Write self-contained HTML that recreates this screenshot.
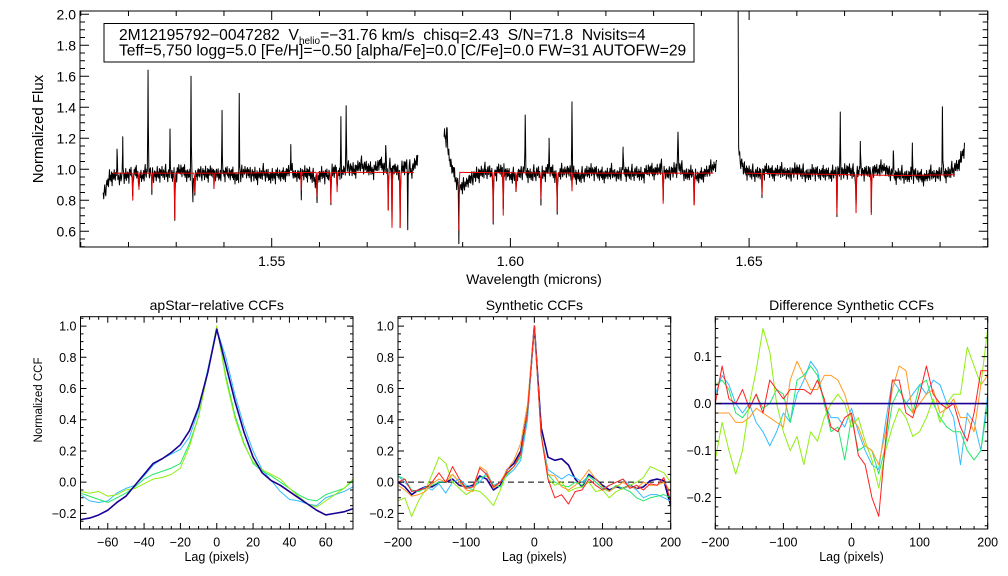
<!DOCTYPE html>
<html><head><meta charset="utf-8"><style>
html,body{margin:0;padding:0;background:#fff;}
svg{display:block;font-family:"Liberation Sans",sans-serif;}
</style></head><body>
<svg id="s" width="1008" height="576" viewBox="0 0 1008 576" xmlns="http://www.w3.org/2000/svg">
<rect width="1008" height="576" fill="#fff"/>
<g id="g1"></g>
<g id="g2"></g>
<g id="g3"></g>
<g id="g4"></g>
</svg>
<script>
// ---------- spectrum data ----------
const chipRanges=[[1.5147,1.5807],[1.5861,1.6432],[1.6477,1.6952]];
const blackCont1=[0.83,0.95,0.96,0.94,0.97,0.98,0.95,0.99,0.96,0.98,0.97,0.96,1.00,0.97,0.95,0.98,0.97,0.99,0.96,0.98,0.97,0.94,0.99,0.97,0.96,0.98,0.95,0.97,0.96,0.99,0.96,0.97,0.98,0.93,0.97,0.96,1.00,0.97,1.02,0.99,1.03,1.01,0.99,1.04,1.00,1.02,0.98,1.03,0.99,1.08];
const blackCont2=[1.22,1.05,0.92,0.88,0.93,0.96,0.98,0.99,0.97,1.00,0.98,0.95,0.97,0.99,0.96,0.98,0.97,1.00,0.96,0.98,0.99,0.97,0.95,0.98,0.99,0.97,0.96,0.98,0.96,0.99,0.97,0.98,0.96,1.00,0.98,1.01,0.97,0.99,1.02,0.96,0.98,0.95,0.97,1.00,1.03];
const blackCont3=[1.10,1.00,0.98,0.97,0.98,1.00,0.97,0.99,0.98,0.97,1.00,0.98,0.96,0.99,0.97,0.98,0.96,0.99,0.98,1.00,0.97,0.99,0.98,1.00,0.99,1.01,0.98,0.96,0.97,0.95,0.97,0.96,0.94,0.97,0.96,0.98,0.97,1.00,1.03,1.15];
const blackResid=[0.02,-0.03,0.01,0.04,-0.02,-0.05,0.01,0.03,-0.01,0.02,-0.04,0.00,0.05,-0.02,0.01,-0.03,0.03,-0.06,0.02,0.01,-0.02,0.04,-0.01,-0.03,0.02,0.00,-0.04,0.03,0.06,-0.02,0.01,-0.01,-0.05,0.02,0.03,-0.02,0.00,0.04,-0.03,0.01,-0.02,0.03,-0.04,0.02,-0.01,0.05,-0.03,0.00,0.02,-0.02,0.01,-0.06,0.03,0.02,-0.01,0.04,-0.02,0.00,-0.03,0.03,0.01,-0.04,0.02,-0.01,0.03,-0.02,0.05,-0.03,0.00,0.02,-0.05,0.01,0.03,-0.02,0.02,-0.01,0.04,-0.03,0.00,0.01,-0.02,0.03,-0.04,0.02,0.06,-0.01,-0.03,0.02,0.00,-0.02,0.03,-0.01,0.01,-0.04,0.02,0.03,-0.02];
const redRanges=[[1.5167,1.5798],[1.5892,1.6425],[1.6494,1.6931]];
const redCont1=[0.975,0.975,0.98,0.98];
const redCont2=[0.98,0.975,0.975];
const redCont3=[0.975,0.97,0.965,0.96,0.965];
const dipWl=[1.5209,1.5222,1.5249,1.5297,1.5339,1.5379,1.5562,1.5595,1.5624,1.5637,1.5744,1.5752,1.5769,1.5892,1.5964,1.5985,1.6012,1.6064,1.6098,1.6129,1.6320,1.6385,1.6527,1.6684,1.6724,1.6756];
const dipVal=[0.80,0.87,0.87,0.68,0.85,0.88,0.86,0.82,0.78,0.85,0.73,0.62,0.62,0.60,0.66,0.70,0.86,0.81,0.73,0.86,0.78,0.77,0.84,0.72,0.73,0.72];
const spikeWl=[1.5176,1.5188,1.5241,1.5287,1.5331,1.5396,1.5432,1.5540,1.5645,1.5656,1.5739,1.5863,1.5867,1.6031,1.6081,1.6129,1.6236,1.6351,1.6477,1.6691,1.6733,1.6802,1.6842,1.6905];
const spikeVal=[1.10,1.20,1.61,1.22,1.59,1.33,1.48,1.13,1.28,1.38,1.16,1.23,1.33,1.35,1.17,1.52,1.55,1.26,2.05,1.33,1.16,1.12,1.15,1.42];
const bDipWl=[1.5335,1.5785,1.6236,1.6475];
const bDipVal=[0.77,0.64,0.56,0.56];
const specYTicks=[0.6,0.8,1.0,1.2,1.4,1.6,1.8,2.0];
const specXTicks=[1.55,1.60,1.65];
const specXLabels=["1.55","1.60","1.65"];

// ---------- CCF data ----------
const lag1=[-75,-70,-65,-60,-55,-50,-45,-40,-35,-30,-25,-20,-15,-10,-5,0,5,10,15,20,25,30,35,40,45,50,55,60,65,70,75];
const ap_navy=[-0.24,-0.23,-0.21,-0.18,-0.13,-0.09,-0.02,0.05,0.12,0.15,0.19,0.24,0.33,0.48,0.70,0.98,0.75,0.52,0.32,0.16,0.06,0.01,-0.02,-0.06,-0.10,-0.14,-0.18,-0.21,-0.20,-0.19,-0.17];
const ap_cyan=[-0.08,-0.12,-0.13,-0.12,-0.07,-0.04,-0.02,0.04,0.11,0.15,0.18,0.21,0.29,0.46,0.72,0.98,0.80,0.56,0.36,0.20,0.08,0.01,-0.06,-0.11,-0.12,-0.14,-0.15,-0.10,-0.08,-0.06,-0.03];
const ap_green=[-0.07,-0.09,-0.11,-0.13,-0.10,-0.07,-0.03,0.02,0.05,0.07,0.09,0.12,0.25,0.42,0.70,1.0,0.68,0.43,0.25,0.12,0.07,0.04,0.0,-0.04,-0.08,-0.11,-0.12,-0.08,-0.06,-0.04,0.01];
const ap_chart=[-0.06,-0.07,-0.06,-0.09,-0.08,-0.05,-0.04,-0.01,0.02,0.03,0.05,0.09,0.23,0.42,0.70,1.0,0.66,0.41,0.24,0.13,0.08,0.05,0.02,-0.04,-0.09,-0.14,-0.16,-0.12,-0.08,-0.04,0.02];
const lag2=[-200,-190,-180,-170,-160,-150,-140,-130,-120,-110,-100,-90,-80,-70,-60,-50,-40,-30,-20,-10,0,10,20,30,40,50,60,70,80,90,100,110,120,130,140,150,160,170,180,190,200];
const sy_navy=[0.0,-0.03,-0.08,-0.05,-0.03,-0.03,0.0,0.0,0.02,-0.02,-0.03,-0.02,0.04,0.02,-0.05,-0.02,0.08,0.12,0.20,0.45,1.0,0.35,0.16,0.14,0.15,0.11,0.02,-0.03,0.05,0.02,-0.02,-0.05,-0.03,-0.04,-0.02,-0.04,-0.03,0.01,0.02,0.01,-0.15];
const sy_cyan=[0.04,0.0,-0.05,-0.06,-0.03,-0.05,-0.01,-0.07,0.0,0.02,-0.02,-0.03,0.0,0.06,-0.02,0.0,0.04,0.08,0.14,0.4,1.0,0.3,0.08,0.05,0.02,0.05,0.03,0.0,0.04,0.0,-0.04,-0.02,0.0,0.02,-0.02,-0.05,-0.10,-0.08,-0.08,-0.10,-0.12];
const sy_green=[0.04,0.02,-0.05,-0.06,-0.04,-0.02,0.0,0.0,0.05,0.0,-0.03,-0.05,0.03,0.04,-0.02,-0.03,0.05,0.10,0.16,0.45,1.0,0.3,0.05,0.0,-0.02,-0.03,0.0,-0.02,0.04,0.0,-0.04,-0.06,-0.02,-0.04,-0.06,-0.10,-0.12,-0.10,-0.09,-0.08,-0.10];
const sy_chart=[-0.12,-0.10,-0.22,-0.12,-0.05,0.05,0.16,0.12,0.0,-0.04,-0.08,-0.05,-0.06,-0.10,-0.15,-0.05,0.06,0.10,0.18,0.45,1.0,0.3,0.02,-0.02,0.0,-0.06,-0.04,-0.03,0.0,-0.06,-0.05,-0.10,-0.06,-0.04,-0.02,0.0,0.03,0.10,0.08,0.06,0.0];
const sy_orange=[-0.02,-0.05,-0.09,-0.08,-0.06,-0.01,0.02,0.0,0.05,0.0,-0.05,-0.06,0.10,0.07,-0.04,0.0,0.08,0.14,0.25,0.5,1.0,0.3,0.05,0.04,-0.03,-0.05,-0.02,0.02,0.08,0.02,-0.03,-0.06,-0.03,0.0,-0.03,-0.04,0.0,-0.02,-0.02,0.0,-0.06];
const sy_red=[0.0,0.02,-0.06,-0.05,-0.04,0.0,0.06,0.0,0.10,0.02,-0.04,-0.03,0.09,0.05,-0.03,0.0,0.06,0.10,0.18,0.45,1.0,0.3,0.02,-0.10,-0.08,-0.14,-0.06,-0.05,0.02,-0.02,-0.05,-0.02,0.0,0.02,-0.04,-0.02,-0.05,-0.01,-0.02,0.03,-0.12];
const df_navy=[0,0,0,0,0,0,0,0,0,0,0,0,0,0,0,0,0,0,0,0,0,0,0,0,0,0,0,0,0,0,0,0,0,0,0,0,0,0,0,0,0];
const df_cyan=[0.02,0.06,0.04,0.0,-0.02,0.0,-0.04,-0.06,-0.09,-0.06,-0.02,-0.04,0.02,0.05,0.09,0.07,0.0,-0.03,-0.03,-0.05,-0.01,-0.06,-0.10,-0.13,-0.14,-0.04,0.05,0.03,0.0,0.02,0.04,0.02,0.05,0.04,0.0,-0.03,-0.13,-0.02,-0.04,-0.10,0.02];
const df_green=[0.04,0.05,0.03,-0.02,-0.03,-0.01,0.02,-0.01,0.0,0.03,0.02,-0.04,0.05,0.06,0.08,0.06,0.0,-0.06,-0.05,-0.12,-0.03,-0.10,-0.09,-0.10,-0.15,-0.09,0.0,0.03,0.0,-0.02,0.04,0.05,0.0,-0.03,-0.05,-0.06,-0.06,-0.10,-0.12,-0.10,0.0];
const df_chart=[-0.12,-0.04,-0.10,-0.15,-0.10,0.0,0.07,0.16,0.11,0.0,-0.06,-0.10,-0.07,-0.13,-0.06,-0.08,-0.03,0.0,0.02,0.0,-0.05,-0.03,-0.08,-0.12,-0.18,-0.10,-0.05,-0.01,-0.03,-0.07,-0.06,-0.03,0.01,-0.04,0.0,0.02,0.02,0.12,0.08,0.04,0.16];
const df_orange=[-0.02,-0.02,-0.02,-0.04,-0.04,-0.03,-0.01,-0.02,-0.03,-0.04,-0.05,0.05,0.09,0.06,0.03,0.03,0.06,0.06,0.05,0.02,-0.03,-0.05,-0.09,-0.10,-0.13,-0.06,0.03,0.08,0.07,-0.02,0.0,0.02,0.03,-0.02,-0.01,0.01,-0.03,-0.03,-0.06,0.04,0.06];
const df_red=[0.0,0.08,0.01,0.0,0.03,-0.01,0.02,-0.02,0.05,0.03,0.01,0.03,0.03,0.03,0.02,0.05,0.01,-0.05,-0.06,-0.03,-0.02,-0.11,-0.13,-0.20,-0.24,-0.08,0.05,0.05,-0.02,-0.03,0.02,0.08,0.02,0.0,-0.01,0.0,-0.05,-0.08,-0.02,0.07,0.07];
const COL={navy:"#1c0096",cyan:"#33bbff",green:"#22e868",chart:"#90ee10",orange:"#ff9a22",red:"#ff2020"};

const NS="http://www.w3.org/2000/svg";
function mk(tag,parent,attrs){const e=document.createElementNS(NS,tag);for(const k in attrs)e.setAttribute(k,attrs[k]);parent.appendChild(e);return e;}
function txt(parent,x,y,s,size,anchor,rot){const t=mk('text',parent,{x:x,y:y,'font-size':size,'text-anchor':anchor||'middle',fill:'#000'});if(rot)t.setAttribute('transform','rotate(-90 '+x+' '+y+')');t.textContent=s;return t;}

function axes(g,L,T,R,B,xs,ys,xmin,xmax,xmaj,xmin_,ymin,ymax,ymaj,ymin_,majL,minL,xlabs,ylabs,fs,name){
  const fr=mk('rect',g,{x:L,y:T,width:R-L,height:B-T,fill:'none',stroke:'#000','stroke-width':1});
  
  
  const tg=mk('g',g,{stroke:'#000','stroke-width':1});
  
  
  let d='';
  for(let v=Math.ceil(xmin/xmin_-1e-6)*xmin_;v<=xmax+1e-9;v+=xmin_){const x=xs(v);const isM=Math.abs(v/xmaj-Math.round(v/xmaj))<1e-4;const l=isM?majL:minL;d+=`M${x},${B}v${-l}M${x},${T}v${l}`;}
  for(let v=Math.ceil(ymin/ymin_-1e-6)*ymin_;v<=ymax+1e-9;v+=ymin_){const y=ys(v);const isM=Math.abs(v/ymaj-Math.round(v/ymaj))<1e-4;const l=isM?majL:minL;d+=`M${L},${y}h${l}M${R},${y}h${-l}`;}
  mk('path',tg,{d:d,fill:'none'});
  const xl=mk('g',g,{});
  
  
  xlabs.forEach(p=>txt(xl,xs(p[0]),B+fs+5,p[1],fs,'middle'));
  const yl=mk('g',g,{});
  
  
  ylabs.forEach(p=>txt(yl,L-4,ys(p[0])+fs*0.36,p[1],fs,'end'));
}
function line(g,xs,ys,X,Y,color,w,name,dash){
  let d='';X.forEach((x,i)=>{d+=(i?'L':'M')+xs(x).toFixed(2)+','+ys(Y[i]).toFixed(2);});
  const p=mk('path',g,{d:d,fill:'none',stroke:color,'stroke-width':w||1,'stroke-linejoin':'round'});
  if(dash)p.setAttribute('stroke-dasharray',dash);
  
  
  return p;
}
function interpArr(arr,a,b,w){const t=(w-a)/(b-a)*(arr.length-1);const i=Math.max(0,Math.min(arr.length-2,Math.floor(t)));const f=t-i;return arr[i]*(1-f)+arr[i+1]*f;}

// ---------- spectrum panel ----------
(function(){
  const g=document.getElementById('g1');
  const L=80,R=987.7,T=11,B=247;
  const xs=w=>271.7+(w-1.55)*4774;
  const ys=v=>169.3-(v-1)*155;
  const cp=mk('clipPath',g,{id:'c1'});mk('rect',cp,{x:L,y:T,width:R-L,height:B-T});
  const conts=[blackCont1,blackCont2,blackCont3];
  const rconts=[redCont1,redCont2,redCont3];
  const W=0.00012;
  const sg=mk('g',g,{'clip-path':'url(#c1)'});
  let ri=0;
  for(let k=0;k<3;k++){
    const [a,b]=chipRanges[k];
    let pts=[];for(let w=a;w<=b;w+=0.00011)pts.push(w);
    spikeWl.concat(dipWl,bDipWl).forEach(c=>{if(c>=a&&c<=b)pts.push(c);});
    pts.sort((p,q)=>p-q);
    const X=[],Y=[];
    pts.forEach(w=>{let base=interpArr(conts[k],a,b,w);let v=base+blackResid[(ri++)%blackResid.length];
      dipWl.forEach((c,i)=>{const f=1-Math.abs(w-c)/W;if(f>0)v+=(dipVal[i]-0.975)*f;});
      bDipWl.forEach((c,i)=>{const f=1-Math.abs(w-c)/W;if(f>0)v+=(bDipVal[i]-base)*f;});
      spikeWl.forEach((c,i)=>{const f=1-Math.abs(w-c)/W;if(f>0)v+=(spikeVal[i]-base)*f;});
      X.push(w);Y.push(v);});
    line(sg,xs,ys,X,Y,'#000',1,'observed-spectrum-chip-'+(k+1));
  }
  for(let k=0;k<3;k++){
    const [a,b]=redRanges[k];
    let pts=[];for(let w=a;w<=b;w+=0.0001)pts.push(w);
    dipWl.forEach(c=>{if(c>=a&&c<=b)pts.push(c);});
    pts.sort((p,q)=>p-q);
    const X=[],Y=[];
    pts.forEach(w=>{let base=interpArr(rconts[k],a,b,w);let v=base;
      dipWl.forEach((c,i)=>{const f=1-Math.abs(w-c)/W;if(f>0)v+=(dipVal[i]-0.975)*f;});
      X.push(w);Y.push(v);});
    line(sg,xs,ys,X,Y,'#e80000',1,'model-spectrum-chip-'+(k+1));
  }
  axes(g,L,T,R,B,xs,ys,1.51,1.70,0.05,0.01,0.5,2.02,0.2,0.05,9,5,
    specXTicks.map((v,i)=>[v,specXLabels[i]]),specYTicks.map(v=>[v,v.toFixed(1)]),14,'spectrum');
  txt(g,534,284,'Wavelength (microns)',14,'middle');
  const yt=txt(g,43,129,'Normalized Flux',15,'middle',true);
  
  const box=mk('g',g,{});
  
  
  mk('rect',box,{x:104,y:23.5,width:590,height:38.5,fill:'#fff',stroke:'#000','stroke-width':1});
  const t1=mk('text',box,{x:119,y:40,'font-size':15.6,fill:'#000',style:'white-space:pre'});
  t1.innerHTML='2M12195792−0047282  V<tspan font-size="10" dy="4">helio</tspan><tspan dy="-4">=−31.76 km/s  chisq=2.43  S/N=71.8  Nvisits=4</tspan>';
  const t2=mk('text',box,{x:119,y:55.5,'font-size':15.6,fill:'#000'});
  t2.textContent='Teff=5,750 logg=5.0 [Fe/H]=−0.50 [alpha/Fe]=0.0 [C/Fe]=0.0 FW=31 AUTOFW=29';
})();

// ---------- CCF panels ----------
function ccfPanel(id,L,R,xmin,xmax,xmaj,xmn,ymin,ymax,ymaj,ymn,xlabs,ylabs,title,X,series,names,dashZero,ylab,nm){
  const g=document.getElementById(id);
  const T=316.7,B=529;
  const xs=v=>L+(v-xmin)/(xmax-xmin)*(R-L);
  const ys=v=>B-(v-ymin)/(ymax-ymin)*(B-T);
  const cp=mk('clipPath',g,{id:'c'+id});mk('rect',cp,{x:L,y:T,width:R-L,height:B-T});
  const sg=mk('g',g,{'clip-path':'url(#c'+id+')'});
  if(dashZero)line(sg,xs,ys,[xmin,xmax],[0,0],'#000',1,nm+'-zero-line','6,4');
  series.forEach((s,i)=>line(sg,xs,ys,X,s,COL[names[i]],names[i]==='navy'?1.6:1,nm+'-ccf-'+names[i]));
  axes(g,L,T,R,B,xs,ys,xmin,xmax,xmaj,xmn,ymin,ymax,ymaj,ymn,6,3,xlabs,ylabs,12.5,nm);
  txt(g,(L+R)/2,310,title,14,'middle');
  txt(g,(L+R)/2,561,'Lag (pixels)',12.5,'middle');
  if(ylab){const t=txt(g,42,400,ylab,11.5,'middle',true);}
}
const ccfYTicks=[-0.2,0.0,0.2,0.4,0.6,0.8,1.0];
const lag1Ticks=[-60,-40,-20,0,20,40,60];
const lag2Ticks=[-200,-100,0,100,200];
const diffYTicks=[-0.2,-0.1,0.0,0.1];
const fmtY=v=>(v<0?'−':'')+Math.abs(v).toFixed(1);
const fmtX=v=>(v<0?'−':'')+Math.abs(v);
ccfPanel('g2',80.5,353,-75,75,20,5,-0.3,1.06,0.2,0.05,lag1Ticks.map(v=>[v,fmtX(v)]),ccfYTicks.map(v=>[v,fmtY(v)]),'apStar−relative CCFs',lag1,[ap_cyan,ap_green,ap_chart,ap_navy],['cyan','green','chart','navy'],false,'Normalized CCF','apstar');
ccfPanel('g3',398,670.7,-200,200,100,20,-0.3,1.06,0.2,0.05,lag2Ticks.map(v=>[v,fmtX(v)]),ccfYTicks.map(v=>[v,fmtY(v)]),'Synthetic CCFs',lag2,[sy_navy,sy_cyan,sy_green,sy_chart,sy_orange,sy_red],['navy','cyan','green','chart','orange','red'],true,null,'synthetic');
ccfPanel('g4',715.3,987.7,-200,200,100,20,-0.267,0.185,0.1,0.02,lag2Ticks.map(v=>[v,fmtX(v)]),diffYTicks.map(v=>[v,fmtY(v)]),'Difference Synthetic CCFs',lag2,[df_cyan,df_green,df_chart,df_orange,df_red,df_navy],['cyan','green','chart','orange','red','navy'],false,null,'difference');
</script>
</body></html>
